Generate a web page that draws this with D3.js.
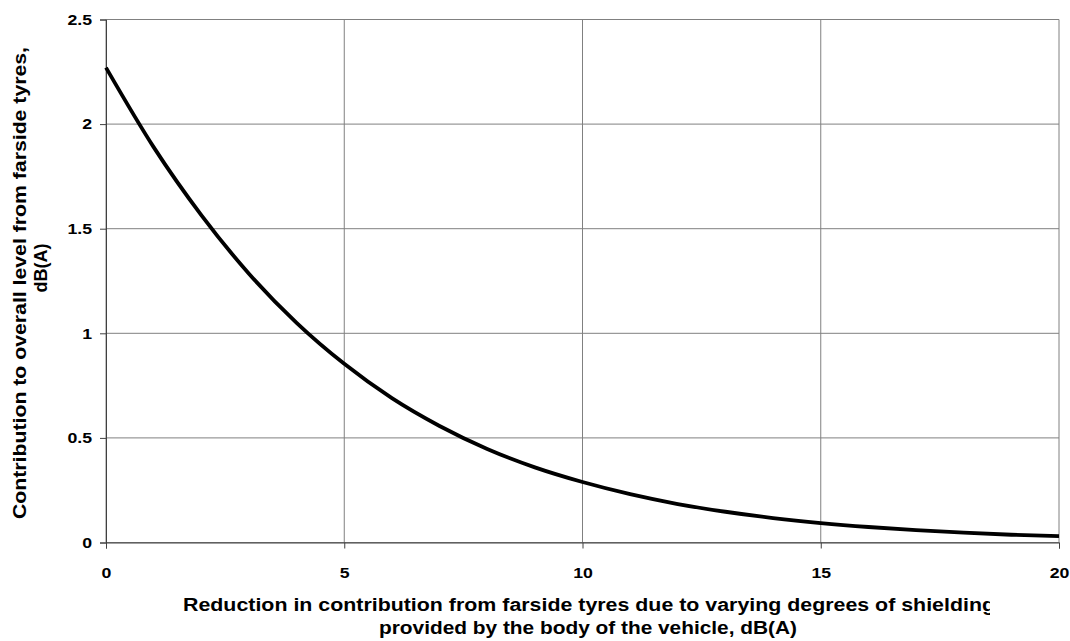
<!DOCTYPE html>
<html><head><meta charset="utf-8">
<script src="https://cdn.jsdelivr.net/npm/d3@7"></script>
<style>body{margin:0;background:#fff}svg{display:block;font-family:"Liberation Sans",Arial,sans-serif;font-weight:bold}</style>
</head><body><svg id="c" width="1070" height="641"></svg>
<script>
const reduction = [0,1,2,3,4,5,6,7,8,9,10,11,12,13,14,15,16,17,18,19,20];
const contribution = [2.27,1.89,1.565,1.285,1.05,0.854,0.69,0.557,0.447,0.359,0.289,0.231,0.184,0.147,0.117,0.093,0.074,0.059,0.047,0.037,0.030];
const xTicks = [0,5,10,15,20];
const yTicks = [0,0.5,1,1.5,2,2.5];
const xTitle = ["Reduction in contribution from farside tyres due to varying degrees of shielding","provided by the body of the vehicle, dB(A)"];
const yTitle = ["Contribution to overall level from farside tyres,","dB(A)"];

const svg = d3.select("#c");
const L=106, R=1059, T=19.5, B=542.5;
const x = d3.scaleLinear().domain([0,20]).range([L,R]);
const y = d3.scaleLinear().domain([0,2.5]).range([B,T]);

// gridlines
svg.append("g").selectAll("line").data(yTicks).join("line")
  .attr("x1",L).attr("x2",R).attr("y1",d=>y(d)).attr("y2",d=>y(d))
  .attr("stroke","#808080").attr("stroke-width",1);
svg.append("g").selectAll("line").data(xTicks).join("line")
  .attr("y1",T).attr("y2",B).attr("x1",d=>x(d)).attr("x2",d=>x(d))
  .attr("stroke","#808080").attr("stroke-width",1);

// axes
const xa = svg.append("g").attr("transform",`translate(0,${B})`)
  .call(d3.axisBottom(x).tickValues(xTicks).tickSize(6).tickPadding(19).tickFormat(d3.format("d")));
const ya = svg.append("g").attr("transform",`translate(${L},0)`)
  .call(d3.axisLeft(y).tickValues(yTicks).tickSize(6).tickPadding(8).tickFormat(d=>String(d)));
[xa,ya].forEach(a=>{
  a.select(".domain").attr("stroke","#404040");
  a.selectAll(".tick line").attr("stroke","#404040");
  a.selectAll("text").attr("font-family","Liberation Sans, Arial, sans-serif").attr("font-weight","bold").attr("font-size",15).attr("fill","#000")
    .each(function(){ const w=this.getComputedTextLength(); d3.select(this).attr("textLength",w*1.18).attr("lengthAdjust","spacingAndGlyphs"); });
});

// curve
svg.append("path").datum(reduction.map((r,i)=>[r,contribution[i]]))
  .attr("fill","none").attr("stroke","#000").attr("stroke-width",3.8)
  .attr("d",d3.line().x(d=>x(d[0])).y(d=>y(d[1])).curve(d3.curveMonotoneX));

// titles
svg.append("clipPath").attr("id","clipx").append("rect").attr("x",0).attr("y",0).attr("width",990).attr("height",641);
const xt = svg.append("g").attr("clip-path","url(#clipx)");
xt.append("text").attr("x",183).attr("y",611).attr("font-size",18).attr("fill","#000")
  .attr("textLength",812).attr("lengthAdjust","spacingAndGlyphs").text(xTitle[0]);
xt.append("text").attr("x",379).attr("y",634).attr("font-size",18).attr("fill","#000")
  .attr("textLength",418).attr("lengthAdjust","spacingAndGlyphs").text(xTitle[1]);

svg.append("text").attr("text-anchor","middle").attr("font-size",18).attr("fill","#000")
  .attr("transform","translate(26,283) rotate(-90)")
  .attr("textLength",472).attr("lengthAdjust","spacingAndGlyphs").text(yTitle[0]);
svg.append("text").attr("text-anchor","middle").attr("font-size",18).attr("fill","#000")
  .attr("transform","translate(47,268) rotate(-90)").text(yTitle[1]);
</script></body></html>
